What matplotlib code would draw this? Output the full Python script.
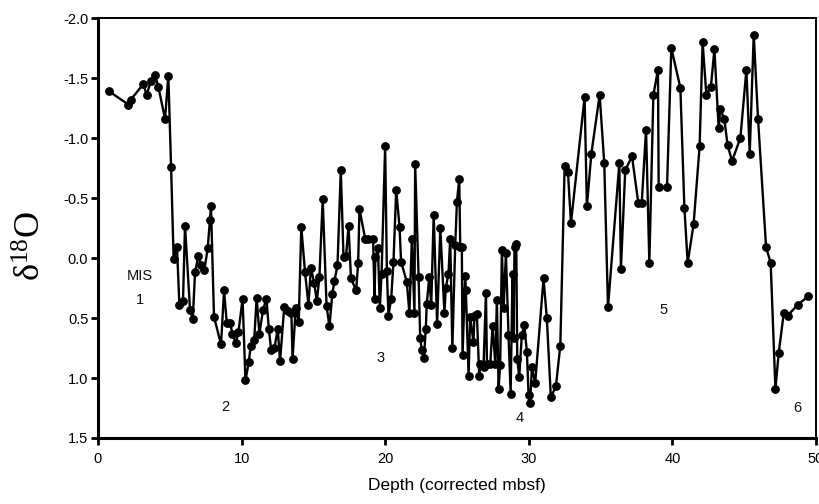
import matplotlib
matplotlib.use("Agg")
import matplotlib.pyplot as plt

plt.rcParams['font.family'] = ['Liberation Sans', 'DejaVu Sans']
plt.rcParams['axes.unicode_minus'] = False
plt.rcParams['mathtext.fontset'] = 'custom'
plt.rcParams['mathtext.rm'] = 'Liberation Serif'
plt.rcParams['mathtext.it'] = 'Liberation Serif'

depth = [0.77, 2.11, 2.28, 3.16, 3.39, 3.69, 3.97, 4.2, 4.67, 4.9, 5.09, 5.27, 5.5, 5.67, 5.92,
         6.06, 6.41, 6.6, 6.76, 6.99, 7.18, 7.41, 7.64, 7.8, 7.87, 8.08, 8.57, 8.78, 8.97, 9.2,
         9.36, 9.59, 9.78, 10.07, 10.27, 10.5, 10.64, 10.88, 11.05, 11.24, 11.5, 11.73, 11.9,
         12.06, 12.29, 12.52, 12.68, 12.97, 13.26, 13.47, 13.55, 13.77, 13.98, 14.16, 14.42,
         14.66, 14.83, 15.06, 15.24, 15.42, 15.65, 15.92, 16.12, 16.32, 16.47, 16.68, 16.91,
         17.1, 17.28, 17.45, 17.62, 17.98, 18.12, 18.21, 18.61, 18.84, 19.16, 19.26, 19.32,
         19.5, 19.63, 19.75, 20.0, 20.12, 20.23, 20.42, 20.58, 20.77, 21.0, 21.11, 21.51,
         21.69, 21.86, 22.04, 22.09, 22.33, 22.44, 22.55, 22.7, 22.83, 22.9, 23.07, 23.21,
         23.38, 23.62, 23.84, 24.13, 24.22, 24.41, 24.53, 24.68, 24.88, 25.0, 25.16, 25.23,
         25.34, 25.39, 25.57, 25.62, 25.81, 25.92, 26.15, 26.22, 26.39, 26.55, 26.62, 26.85,
         27.02, 27.09, 27.32, 27.48, 27.67, 27.78, 27.9, 28.01, 28.13, 28.25, 28.41, 28.59,
         28.74, 28.87, 28.94, 29.01, 29.13, 29.2, 29.34, 29.52, 29.69, 29.87, 29.99, 30.1,
         30.22, 30.45, 31.03, 31.26, 31.54, 31.89, 32.2, 32.5, 32.73, 32.94, 33.89, 34.05,
         34.36, 34.94, 35.26, 35.52, 36.31, 36.42, 36.72, 37.19, 37.63, 37.87, 38.17, 38.4,
         38.68, 39.0, 39.05, 39.63, 39.93, 40.56, 40.84, 41.07, 41.48, 41.9, 42.11, 42.37,
         42.69, 42.93, 43.23, 43.34, 43.62, 43.85, 44.16, 44.74, 45.16, 45.39, 45.67, 45.97,
         46.53, 46.85, 47.18, 47.41, 47.76, 48.03, 48.73, 49.45]

d18o = [-1.39, -1.28, -1.32, -1.45, -1.36, -1.48, -1.53, -1.43, -1.16, -1.52, -0.76, 0.01,
        -0.09, 0.39, 0.36, -0.27, 0.43, 0.51, 0.12, -0.02, 0.06, 0.10, -0.08, -0.32, -0.43,
        0.49, 0.72, 0.27, 0.54, 0.54, 0.63, 0.71, 0.62, 0.34, 1.02, 0.87, 0.73, 0.68, 0.33,
        0.63, 0.43, 0.34, 0.59, 0.77, 0.75, 0.59, 0.86, 0.41, 0.44, 0.46, 0.84, 0.42, 0.53,
        -0.26, 0.12, 0.39, 0.08, 0.21, 0.36, 0.16, -0.49, 0.40, 0.57, 0.30, 0.19, 0.06, -0.73,
        -0.01, -0.02, -0.27, 0.17, 0.27, 0.04, -0.41, -0.16, -0.16, -0.16, 0.34, -0.01, -0.08,
        0.42, 0.13, -0.93, 0.11, 0.48, 0.34, 0.03, -0.57, -0.26, 0.03, 0.20, 0.46, -0.16,
        0.46, -0.78, 0.16, 0.67, 0.77, 0.83, 0.59, 0.38, 0.16, 0.39, -0.36, 0.55, -0.25, 0.46,
        0.25, 0.13, -0.16, 0.75, -0.11, -0.47, -0.66, -0.09, -0.09, 0.81, 0.15, 0.27, 0.98,
        0.49, 0.70, 0.48, 0.47, 0.98, 0.88, 0.91, 0.29, 0.88, 0.88, 0.57, 0.88, 0.35, 1.09,
        0.89, -0.07, 0.42, -0.04, 0.64, 1.13, 0.13, 0.67, -0.09, -0.12, 0.84, 0.99, 0.64,
        0.56, 0.78, 1.14, 1.21, 0.91, 1.04, 0.17, 0.50, 1.16, 1.07, 0.73, -0.77, -0.72, -0.29,
        -1.34, -0.43, -0.87, -1.36, -0.79, 0.41, -0.79, 0.09, -0.73, -0.85, -0.46, -0.46,
        -1.07, 0.04, -1.36, -1.57, -0.59, -0.59, -1.75, -1.42, -0.42, 0.04, -0.28, -0.93,
        -1.80, -1.36, -1.43, -1.74, -1.08, -1.24, -1.16, -0.94, -0.81, -1.00, -1.57, -0.87,
        -1.86, -1.16, -0.09, 0.04, 1.09, 0.79, 0.46, 0.48, 0.39, 0.32]

x_ticks = [0, 10, 20, 30, 40, 50]
y_ticks = [-2.0, -1.5, -1.0, -0.5, 0.0, 0.5, 1.0, 1.5]
y_tick_labels = ['-2.0', '-1.5', '-1.0', '-0.5', '0.0', '0.5', '1.0', '1.5']

stage_labels = ['MIS', '1', '2', '3', '4', '5', '6']
stage_x = [2.93, 2.9, 8.85, 19.65, 29.34, 39.37, 48.71]
stage_y = [0.15, 0.35, 1.24, 0.83, 1.33, 0.43, 1.25]

fig = plt.figure(figsize=(8.2, 5.04), dpi=100)
ax = fig.add_axes([0.1195, 0.131, 0.8755, 0.833])

ax.plot(depth, d18o, color='black', linewidth=1.7, marker='o', markersize=5.3,
        markerfacecolor='black', markeredgecolor='black', zorder=3)

ax.set_xlim(0, 50)
ax.set_ylim(1.5, -2.0)
ax.set_xticks(x_ticks)
ax.set_xticklabels([str(t) for t in x_ticks])
ax.set_yticks(y_ticks)
ax.set_yticklabels(y_tick_labels)

ax.tick_params(axis='both', direction='out', length=5, width=2, labelsize=10.5, colors='black')
ax.tick_params(axis='x', pad=5)
ax.tick_params(axis='y', pad=2)

for side in ['left', 'bottom']:
    ax.spines[side].set_linewidth(2.2)
for side in ['top', 'right']:
    ax.spines[side].set_linewidth(1.4)

ax.set_xlabel('Depth (corrected mbsf)', fontsize=12.5, labelpad=9)
ax.set_ylabel(r'$\mathrm{\delta^{18}O}$', fontsize=26)
ax.yaxis.set_label_coords(-0.069, 0.457)

for lab, xx, yy in zip(stage_labels, stage_x, stage_y):
    ax.text(xx, yy, lab, fontsize=10.5, ha='center', va='center', color='#111111')

fig.savefig('out.png', dpi=100)
